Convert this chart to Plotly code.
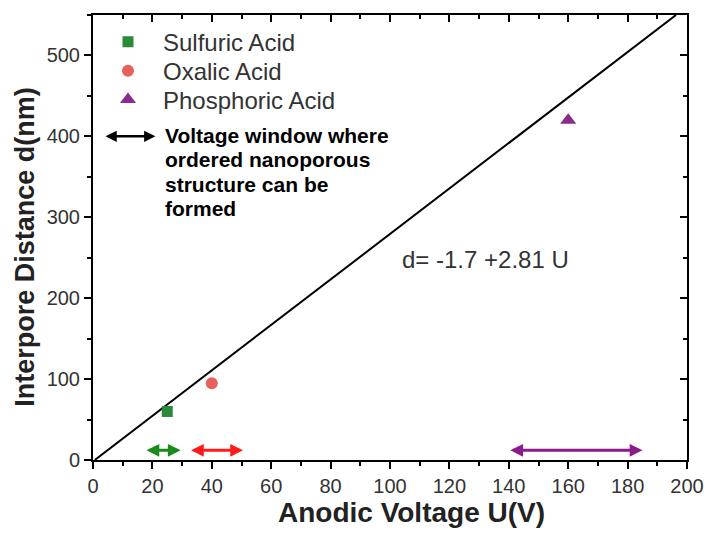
import plotly.graph_objects as go

# Data
sulfuric_u = [25]
sulfuric_d = [60]
oxalic_u = [40]
oxalic_d = [95]
phosphoric_u = [160]
phosphoric_d = [420]

fit_u = [0.6, 196.3]
fit_d = [0, 550]

window_names = ["Sulfuric", "Oxalic", "Phosphoric"]
window_start = [17.5, 32.5, 140]
window_end = [29.5, 50.5, 185]
window_level = 12
window_colors = ["#1a8a1a", "#ff1a1a", "#8b1a8b"]

note_lines = ["Voltage window where", "ordered nanoporous", "structure can be", "formed"]

x_range = [0, 200]
y_range = [0, 550]

FONT = "Liberation Sans, Arial, sans-serif"
TXT = "#333333"

fig = go.Figure()

fig.add_trace(go.Scatter(x=fit_u, y=fit_d, mode="lines",
                         line=dict(color="black", width=2), showlegend=False,
                         hoverinfo="skip"))
fig.add_trace(go.Scatter(x=sulfuric_u, y=sulfuric_d, mode="markers", name="Sulfuric Acid",
                         legend="legend",
                         marker=dict(symbol="square", size=11, color="#2a8a3a")))
fig.add_trace(go.Scatter(x=oxalic_u, y=oxalic_d, mode="markers", name="Oxalic Acid",
                         legend="legend2",
                         marker=dict(symbol="circle", size=12, color="#e8605c")))
fig.add_trace(go.Scatter(x=phosphoric_u, y=phosphoric_d, mode="markers", name="Phosphoric Acid",
                         legend="legend3",
                         marker=dict(symbol="triangle-up", size=14, color="#8a2a8a")))
# dummy trace for mirrored (inward) axes
fig.add_trace(go.Scatter(x=[None], y=[None], xaxis="x2", yaxis="y2", showlegend=False,
                         hoverinfo="skip"))

annotations = []
for s, e, c in zip(window_start, window_end, window_colors):
    annotations.append(dict(x=e, y=window_level, ax=s, ay=window_level,
                            xref="x", yref="y", axref="x", ayref="y",
                            text="", showarrow=True, arrowside="end+start",
                            arrowhead=2, startarrowhead=2, arrowsize=0.85, startarrowsize=0.85,
                            arrowwidth=3, arrowcolor=c))
# legend key arrow
annotations.append(dict(x=21, y=400, ax=3.7, ay=400,
                        xref="x", yref="y", axref="x", ayref="y",
                        text="", showarrow=True, arrowside="end+start",
                        arrowhead=2, startarrowhead=2, arrowsize=0.9, startarrowsize=0.9,
                        arrowwidth=2.5, arrowcolor="black"))
for i, line in enumerate(note_lines):
    annotations.append(dict(x=23.5, y=401 - 30 * i, xref="x", yref="y",
                            xanchor="left", yanchor="middle", showarrow=False,
                            text="<b>" + line + "</b>",
                            font=dict(family=FONT, size=21, color="black")))
annotations.append(dict(x=132, y=248, xref="x", yref="y", showarrow=False,
                        text="d= -1.7 +2.81 U",
                        font=dict(family=FONT, size=24, color=TXT)))
# axis titles
annotations.append(dict(x=0.537, y=-0.119, xref="paper", yref="paper", showarrow=False,
                        xanchor="center", yanchor="middle",
                        text="<b>Anodic Voltage U(V)</b>",
                        font=dict(family=FONT, size=28, color="#222222")))
annotations.append(dict(x=-0.1145, y=0.479, xref="paper", yref="paper", showarrow=False,
                        xanchor="center", yanchor="middle", textangle=-90,
                        text="<b>Interpore Distance d(nm)</b>",
                        font=dict(family=FONT, size=27, color="#222222")))

legend_common = dict(x=0.0, xanchor="left", yanchor="middle",
                     font=dict(family=FONT, size=24, color=TXT),
                     bgcolor="rgba(0,0,0,0)", itemwidth=60)

fig.update_layout(
    width=707, height=533,
    margin=dict(l=93, r=20, t=15, b=73, autoexpand=False),
    paper_bgcolor="white", plot_bgcolor="white",
    font=dict(family=FONT, size=20, color=TXT),
    showlegend=True,
    legend=dict(y=0.939, **legend_common),
    legend2=dict(y=0.874, **legend_common),
    legend3=dict(y=0.809, **legend_common),
    annotations=annotations,
    xaxis=dict(range=x_range, dtick=20, tick0=0, ticks="outside", ticklen=7, tickwidth=1.5,
               tickcolor="black", showline=True, linecolor="black", linewidth=2,
               showgrid=False, zeroline=False, automargin=False, ticklabeloverflow="allow",
               minor=dict(dtick=10, ticks="outside", ticklen=4, tickcolor="black", tickwidth=1.5),
               tickfont=dict(size=20, color=TXT)),
    yaxis=dict(range=y_range, dtick=100, tick0=0, ticks="outside", ticklen=7, tickwidth=1.5,
               tickcolor="black", showline=True, linecolor="black", linewidth=2,
               showgrid=False, zeroline=False, automargin=False,
               minor=dict(dtick=50, ticks="outside", ticklen=4, tickcolor="black", tickwidth=1.5),
               tickfont=dict(size=20, color=TXT)),
    xaxis2=dict(range=x_range, overlaying="x", side="top", anchor="y", dtick=20, tick0=0,
                ticks="inside", ticklen=7, tickwidth=1.5, tickcolor="black",
                showline=True, linecolor="black", linewidth=2, showticklabels=False,
                showgrid=False, zeroline=False, automargin=False,
                minor=dict(dtick=10, ticks="inside", ticklen=4, tickcolor="black", tickwidth=1.5)),
    yaxis2=dict(range=y_range, overlaying="y", side="right", anchor="x", dtick=100, tick0=0,
                ticks="inside", ticklen=7, tickwidth=1.5, tickcolor="black",
                showline=True, linecolor="black", linewidth=2, showticklabels=False,
                showgrid=False, zeroline=False, automargin=False,
                minor=dict(dtick=50, ticks="inside", ticklen=4, tickcolor="black", tickwidth=1.5)),
)

fig.write_html("out.html")
